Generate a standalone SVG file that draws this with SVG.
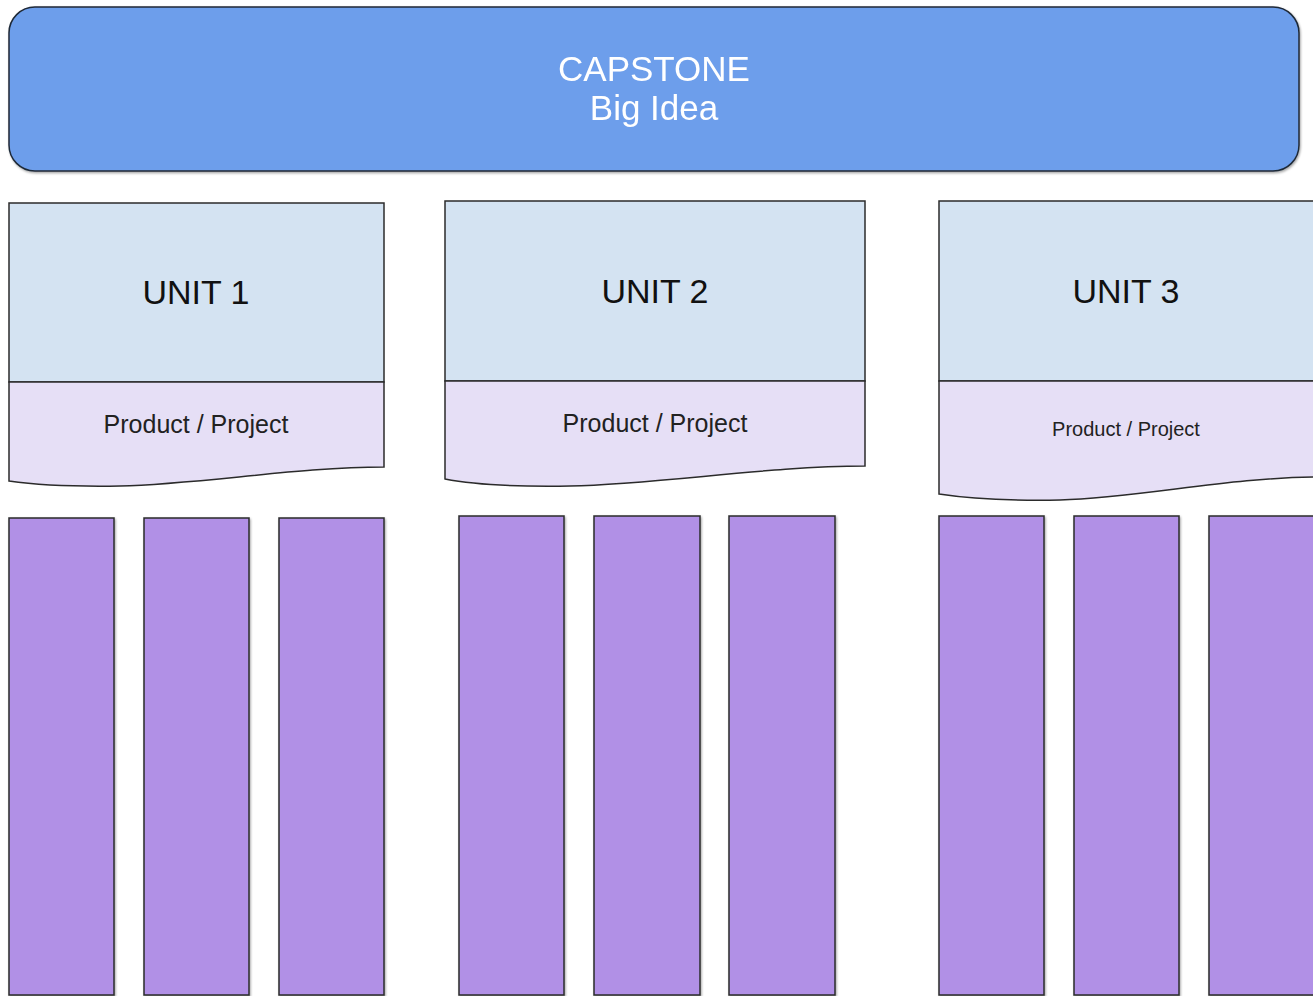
<svg xmlns="http://www.w3.org/2000/svg" width="1313" height="996" viewBox="0 0 1313 996">
  <style>
    .capstone { fill: #6d9eeb; stroke: #1f2937; stroke-width: 1.5; }
    .unit { fill: #d4e3f2; stroke: #2b2b2b; stroke-width: 1.5; }
    .product { fill: #e6dff6; stroke: #2b2b2b; stroke-width: 1.5; }
    .lesson { fill: #b190e6; stroke: #2b2b2b; stroke-width: 1.5; }
    .t-white { font-family: "Liberation Sans", Arial, sans-serif; fill: #ffffff; text-anchor: middle; font-size: 35px; }
    .t-unit { font-family: "Liberation Sans", Arial, sans-serif; fill: #111111; text-anchor: middle; font-size: 34px; }
    .t-prod { font-family: "Liberation Sans", Arial, sans-serif; fill: #222222; text-anchor: middle; font-size: 25px; }
    .t-prod-sm { font-size: 20px; }
  </style>
  <defs>
    <filter id="shadow" x="-5%" y="-5%" width="110%" height="110%">
      <feDropShadow dx="1" dy="1.5" stdDeviation="1" flood-color="#000000" flood-opacity="0.35"/>
    </filter>
  </defs>
  <rect width="1313" height="996" fill="#ffffff"/>

  <!-- Capstone banner -->
  <g id="capstone" filter="url(#shadow)">
    <rect class="capstone" x="9" y="7" width="1290" height="164" rx="26" ry="26"/>
    <text class="t-white" x="654" y="81">CAPSTONE</text>
    <text class="t-white" x="654" y="120">Big Idea</text>
  </g>

  <!-- Unit 1 -->
  <g id="unit1">
    <rect class="unit" x="9" y="203" width="375" height="179"/>
    <path class="product" d="M9,382 H384 V467 C300,467 200,484 120,486 C60,487 30,484 9,481 Z"/>
    <text class="t-unit" x="196" y="304">UNIT 1</text>
    <text class="t-prod" x="196" y="433">Product / Project</text>
  </g>

  <!-- Unit 2 -->
  <g id="unit2">
    <rect class="unit" x="445" y="201" width="420" height="180"/>
    <path class="product" d="M445,381 H865 V466 C770,466 660,484 570,486 C505,487 470,484 445,479 Z"/>
    <text class="t-unit" x="655" y="303">UNIT 2</text>
    <text class="t-prod" x="655" y="432">Product / Project</text>
  </g>

  <!-- Unit 3 -->
  <g id="unit3">
    <rect class="unit" x="939" y="201" width="380" height="180"/>
    <path class="product" d="M939,381 H1319 V477 C1230,477 1140,498 1060,500 C1000,501 965,498 939,494 Z"/>
    <text class="t-unit" x="1126" y="303">UNIT 3</text>
    <text class="t-prod t-prod-sm" x="1126" y="436">Product / Project</text>
  </g>

  <!-- Lesson columns -->
  <g id="lessons1" filter="url(#shadow)">
    <rect class="lesson" x="9" y="518" width="105" height="477"/>
    <rect class="lesson" x="144" y="518" width="105" height="477"/>
    <rect class="lesson" x="279" y="518" width="105" height="477"/>
  </g>
  <g id="lessons2" filter="url(#shadow)">
    <rect class="lesson" x="459" y="516" width="105" height="479"/>
    <rect class="lesson" x="594" y="516" width="106" height="479"/>
    <rect class="lesson" x="729" y="516" width="106" height="479"/>
  </g>
  <g id="lessons3" filter="url(#shadow)">
    <rect class="lesson" x="939" y="516" width="105" height="479"/>
    <rect class="lesson" x="1074" y="516" width="105" height="479"/>
    <rect class="lesson" x="1209" y="516" width="110" height="479"/>
  </g>
</svg>
